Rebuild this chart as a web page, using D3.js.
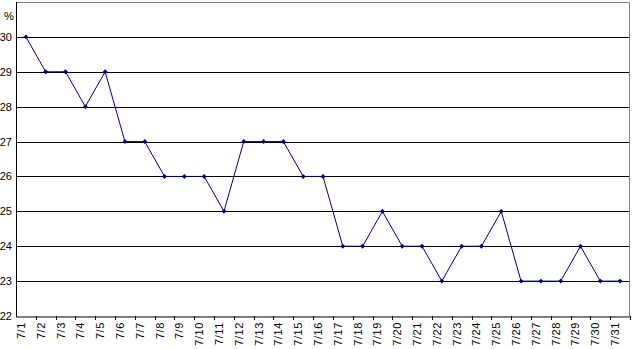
<!DOCTYPE html>
<html>
<head>
<meta charset="utf-8">
<script src="https://cdn.jsdelivr.net/npm/d3@7"></script>
<style>
  body { margin: 0; background: #fff; }
  text { font-family: "Liberation Sans", Arial, sans-serif; font-size: 11px; fill: #000; }
  .x-label { letter-spacing: 0.6px; }
</style>
</head>
<body>
<div id="chart"></div>
<script>
// podaci
const days = ["7/1","7/2","7/3","7/4","7/5","7/6","7/7","7/8","7/9","7/10",
  "7/11","7/12","7/13","7/14","7/15","7/16","7/17","7/18","7/19","7/20",
  "7/21","7/22","7/23","7/24","7/25","7/26","7/27","7/28","7/29","7/30","7/31"];
const values = [30,29,29,28,29,27,27,26,26,26,
  25,27,27,27,26,26,24,24,25,24,
  24,23,24,24,25,23,23,23,24,23,23];
const yTicks = [22,23,24,25,26,27,28,29,30];
const yUnit = "%";

const dim = { width: 632, height: 349, left: 16, right: 630, top: 2, bottom: 316 };

const svg = d3.select("#chart").append("svg")
  .attr("width", dim.width)
  .attr("height", dim.height);

const x = d3.scaleBand().domain(days).range([dim.left, dim.right]);
const y = d3.scaleLinear().domain([22, 31]).range([dim.bottom, dim.top]);

// okvir
svg.append("path")
  .attr("d", `M${dim.left},${dim.top + 0.5}H${dim.right - 0.5}V${dim.bottom}`)
  .attr("fill", "none")
  .attr("stroke", "#808080");

// mreža
svg.append("g")
  .selectAll("line")
  .data(yTicks.filter(d => d > 22))
  .join("line")
  .attr("x1", dim.left).attr("x2", dim.right - 1)
  .attr("y1", d => Math.round(y(d)) + 0.5)
  .attr("y2", d => Math.round(y(d)) + 0.5)
  .attr("stroke", "#000");

// osi
svg.append("g")
  .attr("transform", `translate(0,${dim.bottom + 0.5})`)
  .call(d3.axisBottom(x).tickSize(0).tickFormat(""))
  .call(g => g.select(".domain").attr("stroke", "#000"));

svg.append("g")
  .selectAll("line")
  .data(days)
  .join("line")
  .attr("x1", d => Math.round(x(d) + x.bandwidth()) + 0.5)
  .attr("x2", d => Math.round(x(d) + x.bandwidth()) + 0.5)
  .attr("y1", dim.bottom).attr("y2", dim.bottom + 4)
  .attr("stroke", "#000");

svg.append("line")
  .attr("x1", dim.left + 0.5).attr("x2", dim.left + 0.5)
  .attr("y1", dim.top).attr("y2", dim.bottom + 1)
  .attr("stroke", "#000");

svg.append("g")
  .selectAll("text")
  .data(yTicks)
  .join("text")
  .attr("x", 12)
  .attr("y", d => y(d) + 4)
  .attr("text-anchor", "end")
  .text(d => d);

svg.append("text")
  .attr("x", 9).attr("y", 20)
  .attr("text-anchor", "middle")
  .attr("font-size", "10px")
  .text(yUnit);

svg.append("g")
  .selectAll("text")
  .data(days)
  .join("text")
  .attr("class", "x-label")
  .attr("text-anchor", "end")
  .attr("transform", d => `translate(${x(d) + x.bandwidth() / 2 - 1},${dim.bottom + 6}) rotate(-90)`)
  .text(d => d);

// linija
const line = d3.line()
  .x((d, i) => x(days[i]) + x.bandwidth() / 2)
  .y(d => y(d));

svg.append("path")
  .datum(values)
  .attr("d", line)
  .attr("fill", "none")
  .attr("stroke", "#000080")
  .attr("stroke-width", 1);

svg.append("g")
  .selectAll("path")
  .data(values)
  .join("path")
  .attr("transform", (d, i) => `translate(${x(days[i]) + x.bandwidth() / 2},${y(d)})`)
  .attr("d", d3.symbol(d3.symbolSquare, 12))
  .attr("transform", (d, i) => `translate(${x(days[i]) + x.bandwidth() / 2},${y(d)}) rotate(45)`)
  .attr("fill", "#000080");
</script>
</body>
</html>
